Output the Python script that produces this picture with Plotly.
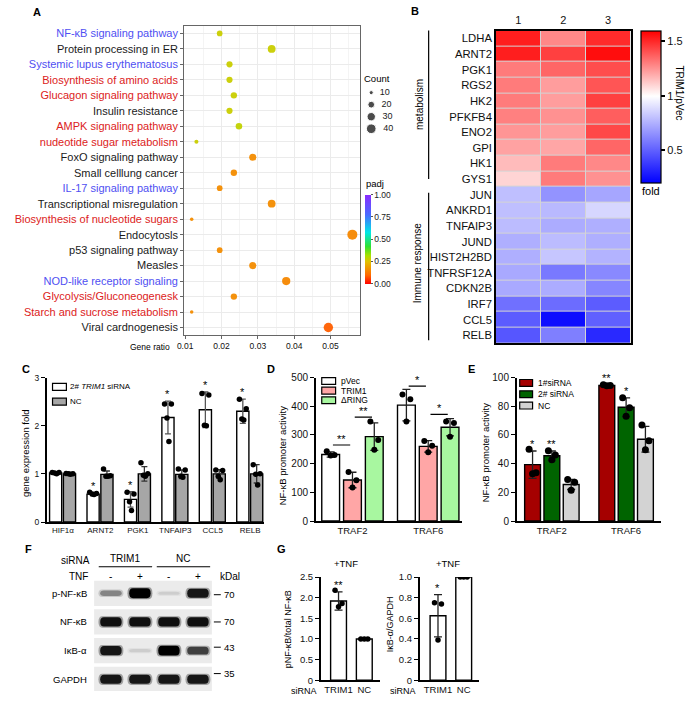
import plotly.graph_objects as go

W, H = 685, 702
FONT = "Liberation Sans, Arial, sans-serif"


def fx(p):
    return p / W


def fy(p):
    return 1 - p / H


# ======================= DATA =======================
# ---- Panel A : KEGG enrichment dot plot ----
a_pathways = ["NF-κB signaling pathway", "Protein processing in ER", "Systemic lupus erythematosus",
              "Biosynthesis of amino acids", "Glucagon signaling pathway", "Insulin resistance",
              "AMPK signaling pathway", "nudeotide sugar metabolism", "FoxO signaling pathway",
              "Small celllung cancer", "IL-17 signaling pathway", "Transcriptional misregulation",
              "Biosynthesis of nucleotide sugars", "Endocytosls", "p53 signaling pathway", "Measles",
              "NOD-like receptor signaling", "Glycolysis/Gluconeogenesk", "Starch and sucrose metabolism",
              "Viral cardnogenesis"]
a_class = ["immune", "other", "immune", "metab", "metab", "other", "metab", "metab", "other", "other",
           "immune", "other", "metab", "other", "other", "other", "immune", "metab", "metab", "other"]
a_gene_ratio = [0.0195, 0.0338, 0.0222, 0.0222, 0.0234, 0.0222, 0.0248, 0.0131, 0.0286, 0.0234,
                0.0195, 0.0338, 0.0118, 0.0560, 0.0195, 0.0286, 0.0378, 0.0234, 0.0118, 0.0494]
a_count = [15, 26, 17, 17, 18, 17, 19, 10, 22, 18, 15, 26, 9, 43, 15, 22, 29, 18, 9, 38]
a_padj = [0.28, 0.28, 0.28, 0.28, 0.28, 0.28, 0.29, 0.28, 0.16, 0.16, 0.16, 0.16, 0.16, 0.15,
          0.16, 0.16, 0.15, 0.16, 0.16, 0.09]
a_count_legend = [10, 20, 30, 40]
a_ratio_ticks = [0.01, 0.02, 0.03, 0.04, 0.05]
a_padj_ticks = [0.0, 0.25, 0.5, 0.75, 1.0]

# ---- Panel B : heatmap TRIM1/pVec fold ----
b_samples = ["1", "2", "3"]
b_genes = ["LDHA", "ARNT2", "PGK1", "RGS2", "HK2", "PFKFB4", "ENO2", "GPI", "HK1", "GYS1",
           "JUN", "ANKRD1", "TNFAIP3", "JUND", "HIST2H2BD", "TNFRSF12A", "CDKN2B", "IRF7", "CCL5", "RELB"]
b_fold = [[1.53, 1.28, 1.50], [1.53, 1.45, 1.57], [1.31, 1.36, 1.42], [1.31, 1.23, 1.40],
          [1.31, 1.23, 1.45], [1.30, 1.26, 1.38], [1.25, 1.23, 1.43], [1.22, 1.21, 1.36],
          [1.16, 1.31, 1.28], [1.10, 1.31, 1.26],
          [0.80, 0.66, 0.72], [0.80, 0.78, 0.87], [0.79, 0.74, 0.75], [0.75, 0.79, 0.75],
          [0.75, 0.82, 0.76], [0.73, 0.58, 0.63], [0.73, 0.74, 0.62], [0.55, 0.54, 0.49],
          [0.49, 0.24, 0.50], [0.47, 0.60, 0.33]]
b_fold_ticks = [0.5, 1, 1.5]
b_groups = ["metabolism", "Immune response"]

# ---- Panel C : gene expression fold ----
c_genes = ["HIF1α", "ARNT2", "PGK1", "TNFAIP3", "CCL5", "RELB"]
c_sirna_mean = [1.02, 0.58, 0.47, 2.17, 2.33, 2.30]
c_sirna_sd = [0.02, 0.03, 0.16, 0.34, 0.37, 0.25]
c_sirna_pts = [[1.03, 1.03, 1.02, 1.00], [0.62, 0.59, 0.58, 0.57], [0.62, 0.58, 0.42, 0.24],
               [2.45, 2.45, 2.16, 1.67], [2.67, 2.64, 2.01, 2.00], [2.55, 2.35, 2.14, 2.12]]
c_nc_mean = [1.00, 0.99, 1.00, 0.99, 1.00, 1.00]
c_nc_sd = [0.01, 0.07, 0.15, 0.09, 0.09, 0.19]
c_nc_pts = [[1.01, 1.00, 1.00, 0.99], [1.10, 0.96, 0.95, 0.95], [1.23, 1.00, 0.97, 0.95],
            [1.10, 1.08, 0.95, 0.93], [1.08, 1.07, 0.95, 0.88], [1.19, 1.00, 0.99, 0.77]]
c_sig = ["", "*", "*", "*", "*", "*"]

# ---- Panel D : NF-kB promoter activity (overexpression) ----
d_targets = ["TRAF2", "TRAF6"]
d_series = ["pVec", "TRIM1", "ΔRING"]
d_mean = {"pVec": [232, 404], "TRIM1": [143, 260], "ΔRING": [294, 327]}
d_sd = {"pVec": [9, 55], "TRIM1": [27, 20], "ΔRING": [48, 30]}
d_pts = {"pVec": [[243, 230, 228], [441, 424, 347]],
         "TRIM1": [[171, 142, 117], [279, 262, 240]],
         "ΔRING": [[347, 282, 248], [347, 342, 294]]}
d_sig = [(0, "pVec", "TRIM1", 265, "**"), (0, "TRIM1", "ΔRING", 362, "**"),
         (1, "pVec", "TRIM1", 470, "*"), (1, "TRIM1", "ΔRING", 372, "*")]

# ---- Panel E : NF-kB promoter activity (knockdown) ----
e_targets = ["TRAF2", "TRAF6"]
e_series = ["1#siRNA", "2# siRNA", "NC"]
e_mean = {"1#siRNA": [39.3, 94.5], "2# siRNA": [45.5, 79.3], "NC": [25.5, 57.0]}
e_sd = {"1#siRNA": [9.5, 0.6], "2# siRNA": [3.3, 6.5], "NC": [3.5, 9.0]}
e_pts = {"1#siRNA": [[50, 33.6, 32.9], [95, 94.5, 94.2]],
         "2# siRNA": [[49, 46, 42.7], [86, 79, 73]],
         "NC": [[29, 27, 21.5], [67, 56, 49.6]]}
e_sig = {"1#siRNA": ["*", "**"], "2# siRNA": ["**", "*"], "NC": ["", ""]}

# ---- Panel F : western blot ----
f_lane_sirna = ["TRIM1", "NC"]
f_lane_tnf = ["-", "+", "-", "+"]
f_proteins = ["p-NF-κB", "NF-κB", "IκB-α", "GAPDH"]
f_kda = ["70", "70", "43", "35"]
f_kda_row_offset = [0.05, 0.0, -0.12, -0.2]
f_band_intensity = {"p-NF-κB": [0.42, 1.0, 0.10, 0.90],
                    "NF-κB": [0.93, 0.93, 0.93, 0.93],
                    "IκB-α": [0.90, 0.10, 1.0, 0.72],
                    "GAPDH": [0.90, 0.90, 0.90, 0.90]}

# ---- Panel G : quantification ----
g_groups = ["TRIM1", "NC"]
g1_mean = [1.92, 1.00]
g1_sd = [0.22, 0.0]
g1_pts = [[2.18, 1.86, 1.78], [1.0, 1.0, 1.0]]
g1_sig = ["**", ""]
g2_mean = [0.625, 1.00]
g2_sd = [0.205, 0.0]
g2_pts = [[0.75, 0.74, 0.39], [1.0, 1.0, 1.0]]
g2_sig = ["*", ""]

# ======================= FIGURE =======================
fig = go.Figure()
annotations = []
shapes = []


def ann(text, x, y, size=9, xanchor="center", yanchor="middle", angle=0, color="black", ref=("paper", "paper"), yshift=0):
    d = dict(text=text, x=x, y=y, xref=ref[0], yref=ref[1], showarrow=False, xanchor=xanchor,
             yanchor=yanchor, textangle=angle, font=dict(size=size, color=color, family=FONT), yshift=yshift)
    annotations.append(d)


def pann(text, px_, py_, **kw):
    ann(text, fx(px_), fy(py_), **kw)


# ---------------- Panel A ----------------
class_col = {"immune": "#4f4ff2", "metab": "#dc2222", "other": "#1a1a1a"}
padj_scale = [[0.0, "#ff0000"], [0.1, "#ff6a00"], [0.25, "#e2c000"], [0.32, "#a8e000"],
              [0.42, "#30e030"], [0.58, "#00e6e6"], [0.78, "#4a6aff"], [1.0, "#8a2cff"]]


def dot_size(c):
    return 2.2 + 7.8 * (max(c - 8, 0) / 35) ** 0.5


fig.add_trace(go.Scatter(
    x=a_gene_ratio, y=list(range(len(a_pathways))), mode="markers", xaxis="x", yaxis="y",
    marker=dict(size=[dot_size(c) for c in a_count], color=a_padj, colorscale=padj_scale, cmin=0, cmax=1,
                line=dict(width=0), opacity=0.95,
                colorbar=dict(x=fx(362), xanchor="left", y=fy(192), yanchor="top", len=91 / H, lenmode="fraction",
                              thickness=6, thicknessmode="pixels", xpad=0, ypad=0, outlinewidth=0,
                              tickvals=a_padj_ticks, ticktext=["%.2f" % v for v in a_padj_ticks],
                              ticks="outside", ticklen=2, tickcolor="#555",
                              tickfont=dict(size=8.5, family=FONT, color="#222"))),
    showlegend=False, hoverinfo="skip"))
pann("padj", 361, 181, size=9.5, xanchor="left")

a_ticktext = ["<span style='color:%s'>%s</span>" % (class_col[c], p) for p, c in zip(a_pathways, a_class)]

# count legend
fig.add_trace(go.Scatter(
    x=[0.2] * len(a_count_legend), y=list(range(len(a_count_legend))), mode="markers+text",
    xaxis="x9", yaxis="y9", text=["  %d" % v for v in a_count_legend], textposition="middle right",
    textfont=dict(size=9, family=FONT, color="#222"),
    marker=dict(size=[dot_size(v) for v in a_count_legend], color="black"), showlegend=False, hoverinfo="skip"))

pann("Count", 359, 74, size=9.5, xanchor="left")
pann("Gene ratio", 144, 347, size=8.5)

# ---------------- Panel B ----------------
lo, hi = 0.2, 1.6
fig.add_trace(go.Heatmap(
    z=b_fold, x=list(range(3)), y=list(range(len(b_genes))), xaxis="x2", yaxis="y2",
    zmin=lo, zmax=hi, colorscale=[[0, "#0000ff"], [(1 - lo) / (hi - lo), "#ffffff"], [1, "#ff0000"]],
    xgap=1, ygap=1, hoverinfo="skip",
    colorbar=dict(x=fx(641), xanchor="left", y=fy(25), yanchor="top", len=155 / H, lenmode="fraction",
                  thickness=20, thicknessmode="pixels", xpad=0, ypad=0, outlinewidth=1.2, outlinecolor="black",
                  tickvals=b_fold_ticks, ticktext=[str(v) for v in b_fold_ticks],
                  ticks="outside", ticklen=4, tickwidth=1.5, tickcolor="black",
                  tickfont=dict(size=11, family=FONT, color="#111"))))
shapes.append(dict(type="rect", xref="x2 domain", yref="y2 domain", x0=0, x1=1, y0=0, y1=1,
                   fillcolor="#d4d4d4", line=dict(width=0), layer="below"))
# group brackets
shapes.append(dict(type="line", xref="paper", yref="paper", x0=fx(426), x1=fx(426), y0=fy(25), y1=fy(176),
                   line=dict(color="black", width=1.2)))
shapes.append(dict(type="line", xref="paper", yref="paper", x0=fx(426), x1=fx(426), y0=fy(190), y1=fy(340),
                   line=dict(color="black", width=1.2)))
pann(b_groups[0], 417, 100, size=10, angle=-90)
pann(b_groups[1], 415, 262, size=10, angle=-90)
pann("fold", 640, 188, size=11, xanchor="left")
pann("TRIM1/pVec", 679, 88, size=10, angle=90)

# ---------------- bar helpers ----------------
def add_bars(xa, ya, centers, means, sds, color, width, pts, line_w=1.4, err_col="#222", cap=3,
             dot_size_=5.5, jit=None):
    fig.add_trace(go.Bar(x=centers, y=means, width=width, xaxis=xa, yaxis=ya,
                         marker=dict(color=color, line=dict(color="black", width=line_w)),
                         showlegend=False, hoverinfo="skip"))
    fig.add_trace(go.Scatter(x=centers, y=means, mode="markers", xaxis=xa, yaxis=ya,
                             marker=dict(size=1, color="rgba(0,0,0,0)"),
                             error_y=dict(type="data", array=sds, color=err_col, thickness=1.3, width=cap),
                             showlegend=False, hoverinfo="skip"))
    xs, ys = [], []
    for c, p in zip(centers, pts):
        srt = sorted(p, reverse=True)
        for k, v in enumerate(srt):
            xs.append(c + jit[k % len(jit)] * width)
            ys.append(v)
    fig.add_trace(go.Scatter(x=xs, y=ys, mode="markers", xaxis=xa, yaxis=ya,
                             marker=dict(size=dot_size_, color="black"), showlegend=False, hoverinfo="skip"))


def stars(xa, ya, centers, means, sds, sig, size=11):
    for c, m, s, t in zip(centers, means, sds, sig):
        if t:
            ann(t, c, m + s, size=size, yanchor="bottom", ref=(xa, ya), yshift=-1)


# ---------------- Panel C ----------------
cw = 0.325
c_white_c = [i - 0.195 for i in range(len(c_genes))]
c_gray_c = [i + 0.175 for i in range(len(c_genes))]
jit4 = [-0.28, 0.28, -0.08, 0.08]
add_bars("x3", "y3", c_white_c, c_sirna_mean, c_sirna_sd, "white", cw, c_sirna_pts, err_col="#555", cap=3,
         dot_size_=5.5, jit=jit4)
add_bars("x3", "y3", c_gray_c, c_nc_mean, c_nc_sd, "#a6a6a6", cw, c_nc_pts, err_col="#333", cap=3,
         dot_size_=5.5, jit=jit4)
stars("x3", "y3", c_white_c, c_sirna_mean, c_sirna_sd, c_sig)
# legend C
shapes.append(dict(type="rect", xref="paper", yref="paper", x0=fx(46), x1=fx(60), y0=fy(391), y1=fy(384),
                   fillcolor="white", line=dict(color="black", width=1.2)))
shapes.append(dict(type="rect", xref="paper", yref="paper", x0=fx(46), x1=fx(60), y0=fy(406), y1=fy(399),
                   fillcolor="#a6a6a6", line=dict(color="black", width=1.2)))
pann("2# <i>TRIM1</i> siRNA", 62, 387.5, size=8, xanchor="left")
pann("NC", 62, 402.5, size=8, xanchor="left")
pann("gene expression fold", 18, 455, size=9.5, angle=-90)

# ---------------- Panel D ----------------
dw = 0.235
d_off = {"pVec": -0.288, "TRIM1": 0.0, "ΔRING": 0.288}
d_col = {"pVec": "white", "TRIM1": "#ffa6a6", "ΔRING": "#a8f7a0"}
jit3 = [-0.22, 0.22, 0.0]
for s in d_series:
    cs = [i + d_off[s] for i in range(len(d_targets))]
    add_bars("x4", "y4", cs, d_mean[s], d_sd[s], d_col[s], dw, d_pts[s], cap=4, dot_size_=6, jit=jit3)
for g, s1, s2, yv, t in d_sig:
    xa_ = g + d_off[s1] + 0.03
    xb_ = g + d_off[s2] - 0.03
    shapes.append(dict(type="line", xref="x4", yref="y4", x0=xa_, x1=xb_, y0=yv, y1=yv,
                       line=dict(color="black", width=1.2)))
    ann(t, (xa_ + xb_) / 2, yv, size=11, yanchor="bottom", ref=("x4", "y4"), yshift=-2)
for k, s in enumerate(d_series):
    y0 = 378 + k * 9.8
    shapes.append(dict(type="rect", xref="paper", yref="paper", x0=fx(318), x1=fx(332), y0=fy(y0 + 7),
                       y1=fy(y0), fillcolor=d_col[s], line=dict(color="black", width=1.2)))
    pann(s, 335, y0 + 3.5, size=8.5, xanchor="left")
pann("NF-κB promoter activity", 278, 458, size=9.5, angle=-90)

# ---------------- Panel E ----------------
ew = 0.213
e_off = {"1#siRNA": -0.26, "2# siRNA": 0.0, "NC": 0.26}
e_col = {"1#siRNA": "#a50000", "2# siRNA": "#006400", "NC": "#d3d3d3"}
for s in e_series:
    cs = [i + e_off[s] for i in range(len(e_targets))]
    add_bars("x5", "y5", cs, e_mean[s], e_sd[s], e_col[s], ew, e_pts[s], cap=4, dot_size_=7, jit=jit3)
    stars("x5", "y5", cs, e_mean[s], e_sd[s], e_sig[s])
for k, s in enumerate(e_series):
    y0 = 380 + k * 11.5
    shapes.append(dict(type="rect", xref="paper", yref="paper", x0=fx(518), x1=fx(531), y0=fy(y0 + 7),
                       y1=fy(y0), fillcolor=e_col[s], line=dict(color="black", width=1.2)))
    pann(s, 534, y0 + 3.5, size=8.5, xanchor="left")
pann("NF-κB promoter activity", 483, 455, size=9.5, angle=-90)

# ---------------- Panel F : western blot ----------------
for r, prot in enumerate(f_proteins):
    shapes.append(dict(type="rect", xref="x8", yref="y8", x0=-0.58, x1=3.48, y0=r - 0.44, y1=r + 0.44,
                       fillcolor="#ebebeb", line=dict(width=0), layer="below"))
    for lane, v in enumerate(f_band_intensity[prot]):
        hh = (2.5 + 7.5 * v) / 2 / 29.2
        for grow, op in ((0.06, 0.35), (0.0, 1.0)):
            x0, x1 = lane - 0.37 - grow, lane + 0.37 + grow
            y0, y1 = r - hh - grow * 0.6, r + hh + grow * 0.6
            ym, rx = r, 0.13
            path = ("M %f,%f L %f,%f Q %f,%f %f,%f Q %f,%f %f,%f L %f,%f Q %f,%f %f,%f Q %f,%f %f,%f Z" %
                    (x0 + rx, y0, x1 - rx, y0, x1, y0, x1, ym, x1, y1, x1 - rx, y1, x0 + rx, y1,
                     x0, y1, x0, ym, x0, y0, x0 + rx, y0))
            g = int(228 * (1 - v))
            shapes.append(dict(type="path", xref="x8", yref="y8", path=path, opacity=op,
                               fillcolor="rgb(%d,%d,%d)" % (g, g, g), line=dict(width=0)))
    ann(prot, fx(83), r, size=9.5, xanchor="right", ref=("paper", "y8"))
    ym_ = r + f_kda_row_offset[r]
    shapes.append(dict(type="line", xref="paper", yref="y8", x0=fx(209), x1=fx(216), y0=ym_, y1=ym_,
                       line=dict(color="black", width=1)))
    ann(f_kda[r], fx(217), ym_, size=9.5, xanchor="left", ref=("paper", "y8"))
for lane, t in enumerate(f_lane_tnf):
    ann(t, lane, fy(580), size=10, ref=("x8", "paper"))
for k, s in enumerate(f_lane_sirna):
    ann(s, 2 * k + 0.5, fy(562), size=10, ref=("x8", "paper"))
    shapes.append(dict(type="line", xref="x8", yref="paper", x0=2 * k - 0.42, x1=2 * k + 1.42,
                       y0=fy(570.5), y1=fy(570.5), line=dict(color="black", width=1.2)))
pann("siRNA", 69, 564, size=10)
pann("TNF", 72, 580, size=10)
pann("kDal", 213, 580, size=10, xanchor="left")

# ---------------- Panel G ----------------
gw = 0.615
add_bars("x6", "y6", [0, 1], g1_mean, g1_sd, "white", gw, g1_pts, cap=4, dot_size_=5.5, jit=jit3)
stars("x6", "y6", [0, 1], g1_mean, g1_sd, g1_sig)
add_bars("x7", "y7", [0, 1], g2_mean, g2_sd, "white", gw, g2_pts, cap=4, dot_size_=5.5, jit=jit3)
stars("x7", "y7", [0, 1], g2_mean, g2_sd, g2_sig)
pann("+TNF", 343, 567, size=9.5)
pann("+TNF", 446, 567, size=9.5)
pann("siRNA", 315, 697, size=9, xanchor="right")
pann("siRNA", 415, 697, size=9, xanchor="right")
pann("pNF-κB/total NF-κB", 284, 634, size=9, angle=-90)
pann("IκB-α/GAPDH", 387, 629, size=9, angle=-90)

# ---------------- panel letters ----------------
for L, xx, yy in [("A", 30, 6), ("B", 412, 5), ("C", 19, 369), ("D", 267, 369), ("E", 469, 369),
                  ("F", 22, 552), ("G", 277, 552)]:
    pann("<b>%s</b>" % L, xx, yy, size=11)

# ======================= AXES =======================
tf = lambda s: dict(size=s, family=FONT, color="#111")
bar_y = dict(showline=True, linecolor="black", linewidth=1.5, ticks="outside", ticklen=4, tickwidth=1.3,
             tickcolor="black", showgrid=False, zeroline=False)
bar_x = dict(showline=True, linecolor="black", linewidth=1.5, ticks="", showgrid=False, zeroline=False)

layout = dict(
    width=W, height=H, margin=dict(l=0, r=0, t=0, b=0), paper_bgcolor="white", plot_bgcolor="white",
    barmode="overlay", font=dict(family=FONT, color="#111"), showlegend=False,
    annotations=annotations, shapes=shapes,
    xaxis=dict(domain=[fx(179), fx(357)], range=[0.00973, 0.0582], tickvals=a_ratio_ticks,
               ticktext=["%.2f" % v for v in a_ratio_ticks], showgrid=True, gridcolor="#ebebeb", gridwidth=1,
               minor=dict(tickvals=[0.015, 0.025, 0.035, 0.045, 0.055], showgrid=True, gridcolor="#f4f4f4"),
               showline=True, mirror=True, linecolor="#666", linewidth=1, ticks="outside", ticklen=3,
               tickcolor="#666", tickfont=tf(8.5), zeroline=False),
    yaxis=dict(domain=[fy(335), fy(20)], range=[len(a_pathways) - 0.5, -0.5], tickvals=list(range(len(a_pathways))),
               ticktext=a_ticktext, showgrid=True, gridcolor="#ebebeb", showline=True, mirror=True,
               linecolor="#666", linewidth=1, ticks="outside", ticklen=3, tickcolor="#666",
               tickfont=tf(11), zeroline=False),
    xaxis2=dict(domain=[fx(494), fx(630)], range=[-0.5, 2.5], side="top", tickvals=[0, 1, 2], ticktext=b_samples,
                ticks="", showline=True, mirror=True, linecolor="black", linewidth=1.5, showgrid=False,
                zeroline=False, tickfont=tf(11), anchor="y2"),
    yaxis2=dict(domain=[fy(343), fy(25)], range=[len(b_genes) - 0.5, -0.5], tickvals=list(range(len(b_genes))),
                ticktext=b_genes, ticks="", showline=True, mirror=True, linecolor="black", linewidth=1.5,
                showgrid=False, zeroline=False, tickfont=tf(11.3), anchor="x2"),
    xaxis3=dict(domain=[fx(40), fx(260)], range=[-0.437, 5.38], tickvals=list(range(len(c_genes))),
                ticktext=c_genes, tickfont=tf(8), anchor="y3", **bar_x),
    yaxis3=dict(domain=[fy(525), fy(378)], range=[0, 3], tickvals=[0, 1, 2, 3], tickfont=tf(8.5),
                anchor="x3", **bar_y),
    xaxis4=dict(domain=[fx(312), fx(460)], range=[-0.484, 1.45], tickvals=[0, 1], ticktext=d_targets,
                tickfont=tf(9.5), anchor="y4", **bar_x),
    yaxis4=dict(domain=[fy(524), fy(378)], range=[0, 500], tickvals=[0, 100, 200, 300, 400, 500],
                tickfont=tf(10), anchor="x4", **bar_y),
    xaxis5=dict(domain=[fx(515), fx(661)], range=[-0.473, 1.473], tickvals=[0, 1], ticktext=e_targets,
                tickfont=tf(9.5), anchor="y5", **bar_x),
    yaxis5=dict(domain=[fy(524), fy(378)], range=[0, 100], tickvals=[0, 20, 40, 60, 80, 100],
                tickfont=tf(10), anchor="x5", **bar_y),
    xaxis6=dict(domain=[fx(317), fx(377)], range=[-0.69, 1.615], tickvals=[0, 1], ticktext=g_groups,
                tickfont=tf(9.5), anchor="y6", **bar_x),
    yaxis6=dict(domain=[fy(686), fy(581)], range=[0, 2.5], tickvals=[0, 0.5, 1, 1.5, 2, 2.5],
                ticktext=["0", "0.5", "1.0", "1.5", "2.0", "2.5"], tickfont=tf(9.5), anchor="x6", **bar_y),
    xaxis7=dict(domain=[fx(417), fx(477)], range=[-0.71, 1.6], tickvals=[0, 1], ticktext=g_groups,
                tickfont=tf(9.5), anchor="y7", **bar_x),
    yaxis7=dict(domain=[fy(686), fy(581)], range=[0, 1.0], tickvals=[0, 0.2, 0.4, 0.6, 0.8, 1.0],
                ticktext=["0", "0.2", "0.4", "0.6", "0.8", "1.0"], tickfont=tf(9.5), anchor="x7", **bar_y),
    xaxis8=dict(domain=[fx(88), fx(207)], range=[-0.58, 3.48], visible=False, anchor="y8"),
    yaxis8=dict(domain=[fy(697), fy(584)], range=[3.41, -0.462], visible=False, anchor="x8"),
    xaxis9=dict(domain=[fx(360), fx(400)], range=[0, 1], visible=False, anchor="y9"),
    yaxis9=dict(domain=[fy(131), fy(82)], range=[3.5, -0.5], visible=False, anchor="x9"),
)
fig.update_layout(**layout)
fig.write_html("out.html", config={"displayModeBar": False},
               post_script="document.body.style.margin='0';document.body.style.overflow='hidden';")
